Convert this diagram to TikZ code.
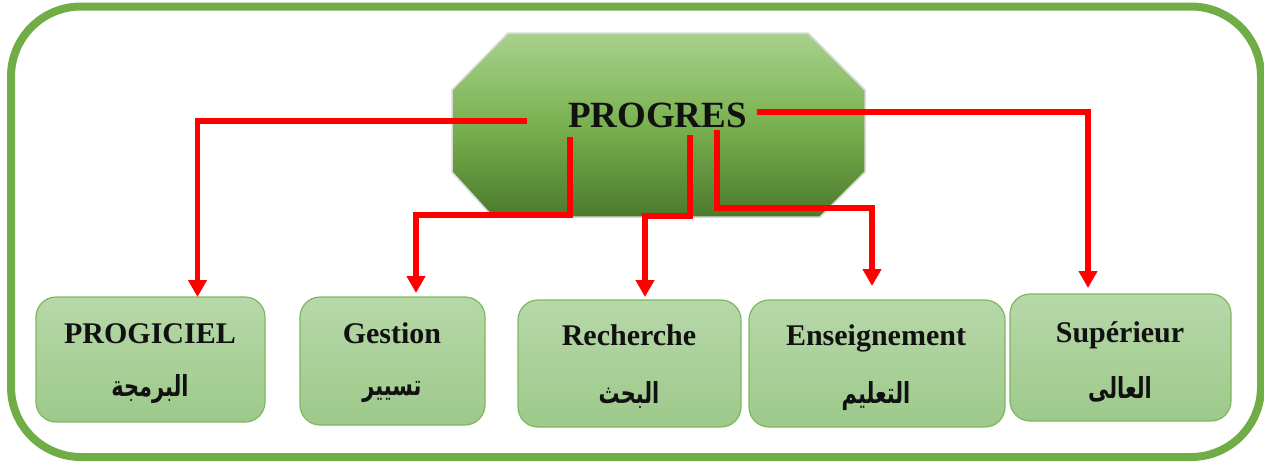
\documentclass[tikz,border=0pt]{standalone}
\usepackage{fontspec}
\setmainfont{Liberation Serif}
\newfontfamily\arabicfont[Script=Arabic]{DejaVu Sans}
\TeXXeTstate=1
\usetikzlibrary{arrows.meta}
\definecolor{frameg}{HTML}{70AD47}
\definecolor{octtop}{HTML}{A9D18E}
\definecolor{octmid}{HTML}{79B14F}
\definecolor{octbot}{HTML}{4C7A2C}
\definecolor{boxtop}{HTML}{B7D8A9}
\definecolor{boxbot}{HTML}{9DC98A}
\definecolor{boxedge}{HTML}{7DB760}
\definecolor{arrred}{HTML}{FF0000}
\definecolor{txt}{HTML}{111111}
\newcommand{\artxt}[1]{\scalebox{0.72}[1]{\beginR #1\endR}}
\tikzset{
  boxshape/.style={draw=boxedge, line width=1.2pt, rounded corners=20pt, top color=boxtop, bottom color=boxbot},
  latlab/.style={anchor=base, text=txt, font=\bfseries\fontsize{30}{36}\selectfont, inner sep=0pt},
  arlab/.style={anchor=center, text=txt, font=\arabicfont\bfseries\fontsize{29}{34}\selectfont, inner sep=0pt},
  conn/.style={draw=arrred, line width=5.5pt, line join=miter, -{Triangle[width=18pt,length=17pt]}}
}
\begin{document}
\begin{tikzpicture}[x=1pt,y=-1pt]
\useasboundingbox (0,0) rectangle (1264,463);
% outer frame
\draw[frameg, line width=8pt, rounded corners=70pt] (11,6.5) rectangle (1261,457);
% octagon
\shade[top color=octtop, bottom color=octbot, middle color=octmid, draw=gray!30, line width=1.5pt]
  (508,33) -- (808,33) -- (865,90) -- (865,172) -- (820,217) -- (493,217) -- (452,172) -- (452,90) -- cycle;
\node[anchor=base, text=txt, font=\bfseries\fontsize{37}{44}\selectfont, inner sep=0pt] (prog) at (657.5,127) {PROGRES};
% boxes
\path[boxshape] (36,297) rectangle (265,422);
\path[boxshape] (300,297) rectangle (485,425);
\path[boxshape] (518,300) rectangle (741,427);
\path[boxshape] (749,300) rectangle (1005,427);
\path[boxshape] (1010,294) rectangle (1231,421);
% labels
\node[latlab] (l1) at (150,343) {PROGICIEL};
\node[arlab] (r1) at (150,389) {\artxt{البرمجة}};
\node[latlab] (l2) at (392,343) {Gestion};
\node[arlab] (r2) at (392,392) {\artxt{تسيير}};
\node[latlab] (l3) at (629,345) {Recherche};
\node[arlab] (r3) at (629,395) {\artxt{البحث}};
\node[latlab] (l4) at (876,345) {Enseignement};
\node[arlab] (r4) at (876,396) {\artxt{التعليم}};
\node[latlab] (l5) at (1120,342) {Supérieur};
\node[arlab] (r5) at (1120,389) {\artxt{العالى}};
% connector start points and targets
\coordinate (s1) at (527,121);
\coordinate (s2) at (570,137);
\coordinate (s3) at (690,135);
\coordinate (s4) at (717,130);
\coordinate (s5) at (757,112);
\coordinate (t1) at (197.5,297);
\coordinate (t2) at (416,293);
\coordinate (t3) at (645,297);
\coordinate (t4) at (872,286);
\coordinate (t5) at (1088,288);
% connectors
\draw[conn] (s1) -| (t1);
\draw[conn] (s2) -- (570,215) -| (t2);
\draw[conn] (s3) -- (690,216) -| (t3);
\draw[conn] (s4) -- (717,208) -| (t4);
\draw[conn] (s5) -| (t5);
\end{tikzpicture}
\end{document}
